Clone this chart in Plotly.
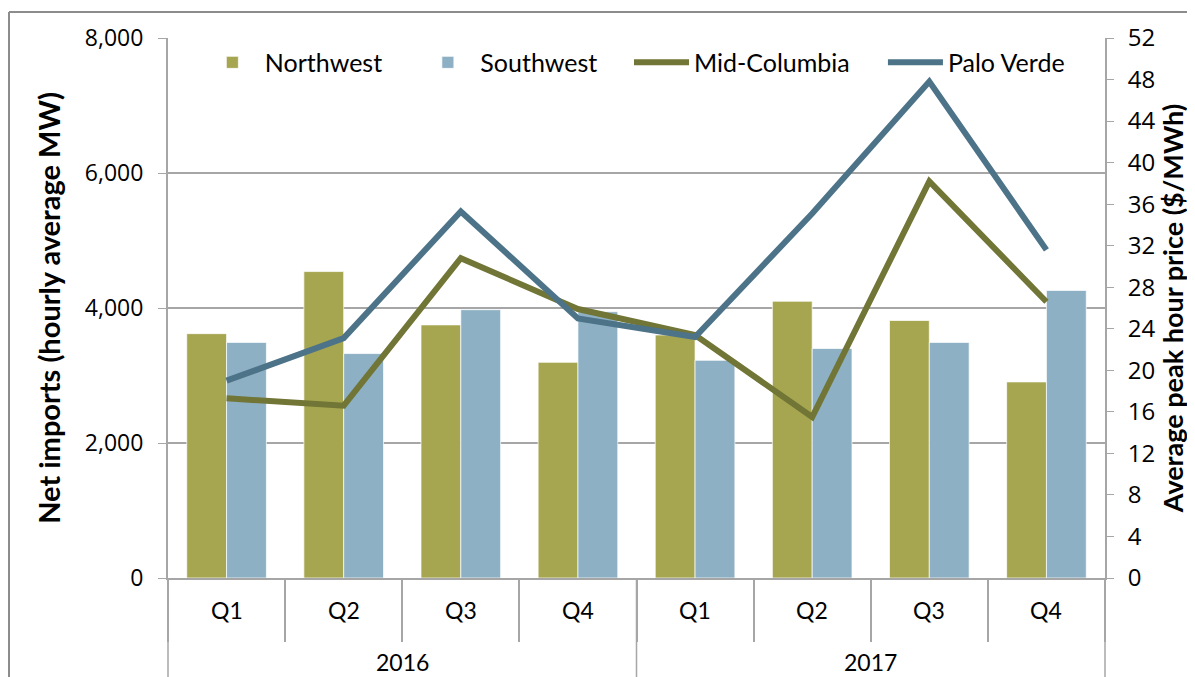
import plotly.graph_objects as go

years = ["2016", "2016", "2016", "2016", "2017", "2017", "2017", "2017"]
quarters = ["Q1", "Q2", "Q3", "Q4", "Q1", "Q2", "Q3", "Q4"]

northwest = [3620, 4540, 3750, 3195, 3600, 4100, 3815, 2905]
southwest = [3490, 3325, 3975, 3945, 3225, 3400, 3490, 4260]
mid_columbia = [17.3, 16.6, 30.8, 25.9, 23.4, 15.5, 38.2, 26.6]
palo_verde = [19.0, 23.1, 35.3, 25.0, 23.2, 35.1, 47.8, 31.6]

categories = [f"{y} {q}" for y, q in zip(years, quarters)]

NW_C = "#A6A651"
SW_C = "#8EB0C4"
MC_C = "#717535"
PV_C = "#4D7389"
GRID = "#A6A6A6"

LABEL_FONT = "Lato, Open Sans, sans-serif"
NUM_FONT = "Open Sans, sans-serif"

# page body has an 8px margin, so the figure is a little smaller than the window
W, H = 1187, 669
ML, MR, MT, MB = 160, 90, 30, 99
PW, PH = W - ML - MR, H - MT - MB

fig = go.Figure()
fig.add_trace(go.Bar(x=categories, y=northwest, name="Northwest", legend="legend",
                     marker=dict(color=NW_C, line=dict(color="rgba(255,255,255,0.7)", width=1))))
fig.add_trace(go.Bar(x=categories, y=southwest, name="Southwest", legend="legend2",
                     marker=dict(color=SW_C, line=dict(color="rgba(255,255,255,0.7)", width=1))))
fig.add_trace(go.Scatter(x=categories, y=mid_columbia, name="Mid-Columbia", mode="lines", yaxis="y2",
                         legend="legend3", line=dict(color=MC_C, width=6)))
fig.add_trace(go.Scatter(x=categories, y=palo_verde, name="Palo Verde", mode="lines", yaxis="y2",
                         legend="legend4", line=dict(color=PV_C, width=6)))


def legend_at(xp):
    return dict(orientation="h", x=xp, y=0.997, xanchor="left", yanchor="top",
                font=dict(family=LABEL_FONT, size=25, color="black"), bgcolor="rgba(0,0,0,0)",
                itemwidth=55)


fig.update_layout(
    width=W, height=H,
    margin=dict(l=ML, r=MR, t=MT, b=MB),
    paper_bgcolor="white", plot_bgcolor="white",
    barmode="group", bargap=0.32, bargroupgap=0,
    showlegend=True,
    legend=legend_at(0.034),
    legend2=legend_at(0.264),
    legend3=legend_at(0.492),
    legend4=legend_at(0.763),
    xaxis=dict(type="category", showline=True, linecolor=GRID, linewidth=2,
               ticks="outside", tickson="boundaries", ticklen=62, tickcolor=GRID, tickwidth=1.5,
               showticklabels=False, automargin=False),
    yaxis=dict(range=[0, 8000], dtick=2000, tickformat=",", showgrid=True, gridcolor=GRID, gridwidth=1.5,
               showline=True, linecolor=GRID, linewidth=2, ticks="outside", ticklen=8, tickcolor=GRID,
               ticklabelstandoff=10,
               tickfont=dict(family=NUM_FONT, size=23, color="black"),
               title=dict(text="<b>Net imports (hourly average MW)</b>",
                          font=dict(family=LABEL_FONT, size=29, color="black"), standoff=16),
               zeroline=False, automargin=False),
    yaxis2=dict(range=[0, 52], dtick=4, overlaying="y", side="right", showgrid=False,
                showline=True, linecolor=GRID, linewidth=2, ticks="outside", ticklen=7, tickcolor=GRID,
                ticklabelstandoff=9,
                tickfont=dict(family=NUM_FONT, size=24, color="black"),
                title=dict(text="<b>Average peak hour price ($/MWh)</b>",
                           font=dict(family=LABEL_FONT, size=27, color="black"), standoff=6),
                zeroline=False, automargin=False),
)

# quarter labels
for cat, q in zip(categories, quarters):
    fig.add_annotation(x=cat, xref="x", y=-32 / PH, yref="paper", text=q, showarrow=False,
                       xanchor="center", yanchor="middle",
                       font=dict(family=LABEL_FONT, size=23, color="black"))

# year labels and year dividers
unique_years = list(dict.fromkeys(years))
for yr in unique_years:
    idx = [i for i, y in enumerate(years) if y == yr]
    fig.add_annotation(x=sum(idx) / len(idx), xref="x", y=-84 / PH, yref="paper", text=yr,
                       showarrow=False, xanchor="center", yanchor="middle",
                       font=dict(family=LABEL_FONT, size=23, color="black"))
n = len(categories)
bounds = [0] + [i for i in range(1, n) if years[i] != years[i - 1]] + [n]
for b in bounds:
    fig.add_shape(type="line", xref="paper", yref="paper", x0=b / n, x1=b / n, y0=0, y1=-MB / PH,
                  line=dict(color=GRID, width=1.5))

# outer chart frame (left and top edges)
fx = (1 - ML) / PW
fy = (H - MB - 4) / PH
fig.add_shape(type="line", xref="paper", yref="paper", x0=fx, x1=fx, y0=fy, y1=-MB / PH - 0.05,
              line=dict(color="#8C8C8C", width=2))
fig.add_shape(type="line", xref="paper", yref="paper", x0=fx, x1=(W - ML) / PW + 0.05, y0=fy, y1=fy,
              line=dict(color="#8C8C8C", width=2))

fig.write_html("out.html")
